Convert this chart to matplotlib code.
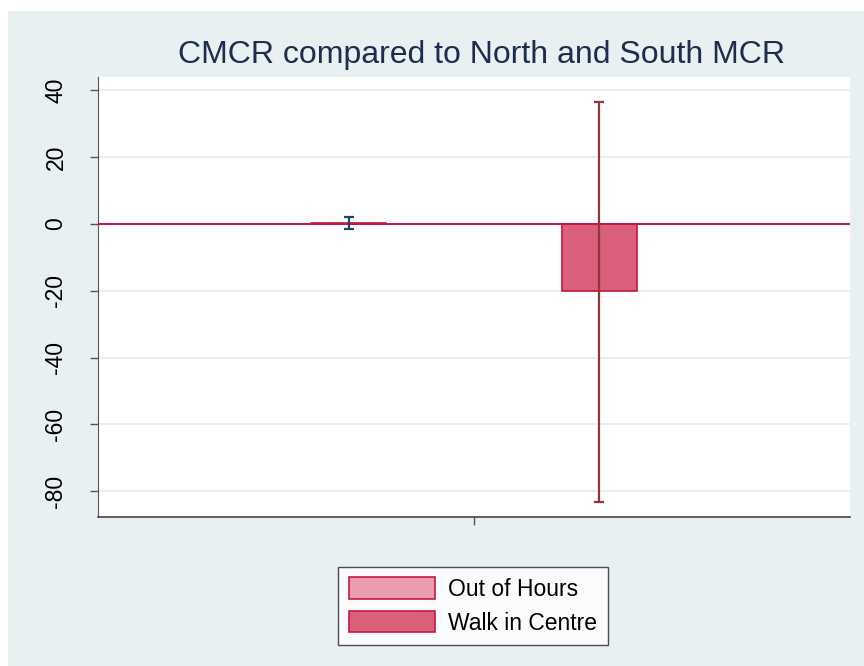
import matplotlib
matplotlib.use("Agg")
import matplotlib.pyplot as plt
from matplotlib.patches import Rectangle

plt.rcParams['font.family'] = ['Liberation Sans', 'DejaVu Sans']

# data
groups = ['Out of Hours', 'Walk in Centre']
means = [0.3, -20.0]
ci_low = [-1.6, -83.2]
ci_high = [2.2, 36.4]
yticks = [40, 20, 0, -20, -40, -60, -80]

fills = ['#e89cad', '#d95f7b']
edge = '#c8173f'
err_colors = ['#1a476f', '#90353b']
bg = '#e8f0f2'

fig = plt.figure(figsize=(8.64, 6.66), dpi=100, facecolor='white')
# shaded graph region (leaves a thin white margin on left and top)
fig.patches.append(Rectangle((8/864, 0), 1 - 8/864, 1 - 11/666,
                             transform=fig.transFigure, facecolor=bg,
                             edgecolor='none', zorder=-10))

ax = fig.add_axes([98/864, 1 - 517/666, (850-98)/864, (517-77)/666])
ax.set_facecolor('white')

xpos = [1, 2]
for i in range(2):
    ax.bar(xpos[i], means[i], width=0.3, color=fills[i], edgecolor=edge,
           linewidth=1.2, zorder=3, label=groups[i])
    ax.errorbar(xpos[i], means[i],
                yerr=[[means[i] - ci_low[i]], [ci_high[i] - means[i]]],
                fmt='none', ecolor=err_colors[i], elinewidth=1.6,
                capsize=3.8, capthick=1.6, zorder=4)

ax.axhline(0, color='#c8173f', linewidth=1.4, zorder=3.5)

ax.set_xlim(0, 3)
ax.set_ylim(-87.7, 44)
ax.set_xticks([1.5])
ax.set_xticklabels([''])
ax.set_yticks(yticks)
ax.set_yticklabels([str(t) for t in yticks], rotation=90, va='center',
                   fontsize=16.5)
ax.tick_params(axis='both', length=6, color='#555555', width=1)
ax.tick_params(axis='y', pad=16)
ax.grid(axis='y', color='#e6eeee', linewidth=1.2, zorder=0)
ax.set_axisbelow(True)

for s in ['top', 'right']:
    ax.spines[s].set_visible(False)
ax.spines['left'].set_color('#555555')
ax.spines['bottom'].set_color('#444444')
ax.spines['bottom'].set_linewidth(1.2)

fig.text(482/864, 1 - 55/666, 'CMCR compared to North and South MCR',
         ha='center', va='center', fontsize=23, color='#1c2d4f')

leg = fig.legend(loc='center', bbox_to_anchor=(473/864, 1 - 606/666),
                 fontsize=16.5, frameon=True, fancybox=False,
                 handlelength=3.75, handleheight=1.05, handletextpad=0.6,
                 borderpad=0.45, labelspacing=0.45, borderaxespad=0)
leg.get_frame().set_edgecolor('#222222')
leg.get_frame().set_linewidth(1.0)

plt.savefig('out.png', dpi=100, facecolor=fig.get_facecolor())
